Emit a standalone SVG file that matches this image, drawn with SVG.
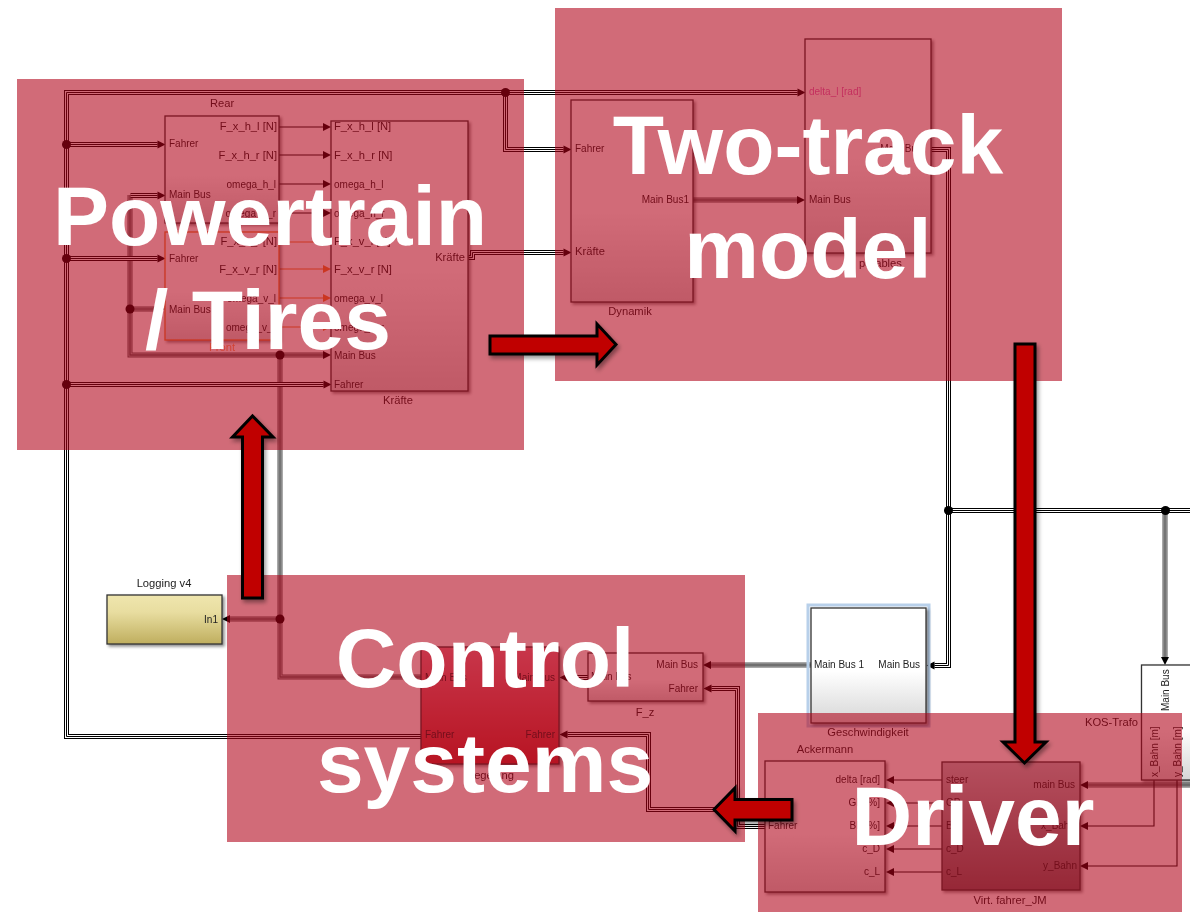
<svg xmlns="http://www.w3.org/2000/svg" width="1190" height="912" viewBox="0 0 1190 912">
<style>
text{font-family:"Liberation Sans",Arial,sans-serif}
.t{font-size:10px;fill:#222}
.n{font-size:11.2px;fill:#222}
.r{text-anchor:end}
.m{text-anchor:middle}
.box{fill:url(#gw);stroke:#333;stroke-width:1.3;filter:drop-shadow(2px 2px 1.5px rgba(0,0,0,.45))}
.sig{fill:none;stroke:#111;stroke-width:1.1;marker-end:url(#ah)}
.orange{fill:none;stroke:#f08030;stroke-width:1.1;marker-end:url(#aho)}
.b1{fill:none;stroke:#000;stroke-width:5}
.b2{fill:none;stroke:#fff;stroke-width:3}
.b3{fill:none;stroke:#000;stroke-width:1;marker-end:url(#ah)}
.g1{fill:none;stroke:#555;stroke-width:5}
.g2{fill:none;stroke:#c4c4c4;stroke-width:3}
.g3{fill:none;stroke:#555;stroke-width:1.4;marker-end:url(#ah)}
.dot{fill:#000}
.zone{fill:#B00016;fill-opacity:.58}
.big{font-size:84px;font-weight:bold;fill:#fff;text-anchor:middle}
.arrow{fill:#C00000;stroke:#000;stroke-width:3;stroke-linejoin:miter;filter:drop-shadow(2px 3px 2px rgba(0,0,0,.4))}
</style>
<defs>
<linearGradient id="gw" x1="0" y1="0" x2="0" y2="1"><stop offset="0" stop-color="#fff"/><stop offset=".55" stop-color="#fff"/><stop offset="1" stop-color="#d6d6d6"/></linearGradient>
<linearGradient id="gy" x1="0" y1="0" x2="0" y2="1"><stop offset="0" stop-color="#efe6ae"/><stop offset=".35" stop-color="#e8dda0"/><stop offset="1" stop-color="#bfae5e"/></linearGradient>
<linearGradient id="gr" x1="0" y1="0" x2="0" y2="1"><stop offset="0" stop-color="#e98293"/><stop offset="1" stop-color="#c33034"/></linearGradient>
<linearGradient id="gd" x1="0" y1="0" x2="0" y2="1"><stop offset="0" stop-color="#bcbcc0"/><stop offset="1" stop-color="#735f64"/></linearGradient>
<marker id="ah" markerUnits="userSpaceOnUse" markerWidth="9" markerHeight="10" refX="0" refY="5" orient="auto" overflow="visible"><path d="M0 1 L8 5 L0 9z" fill="#000" stroke="none"/></marker>
<marker id="aho" markerUnits="userSpaceOnUse" markerWidth="9" markerHeight="10" refX="0" refY="5" orient="auto" overflow="visible"><path d="M0 1 L8 5 L0 9z" fill="#f08030" stroke="none"/></marker>
<g id="crisp" transform="translate(.5 .5)">
<path d="M421 736H66V92H797"/>
<path d="M505 92V149H563"/>
<path d="M66 144H157"/>
<path d="M66 258H157"/>
<path d="M66 384H323"/>
<path d="M130 195H157"/>
<path d="M931 149H948V665H934"/>
<path d="M948 510H1190"/>
<path d="M765 826H737V688H711"/>
<path d="M737 809H648V734H567"/>
<path d="M468 257H472V252H563"/>
<path d="M588 677H567"/>
</g>
<g id="soft">
<path d="M130 195V355H323"/>
<path d="M130 309H157"/>
<path d="M280 355V677H421"/>
<path d="M280 619H230"/>
<path d="M693 200H797"/>
<path d="M811 665H711"/>
<path d="M1165 510V657"/>
<path d="M1190 785H1088"/>
</g>
</defs>
<rect width="1190" height="912" fill="#fff"/>
<g id="connectors">
<use href="#soft" class="g1"/><use href="#soft" class="g2"/><use href="#soft" class="g3"/>
<use href="#crisp" class="b1"/><use href="#crisp" class="b2"/><use href="#crisp" class="b3"/>
<path class="sig" d="M279 127H323"/>
<path class="sig" d="M279 155H323"/>
<path class="sig" d="M279 184H323"/>
<path class="sig" d="M279 213H323"/>
<path class="orange" d="M279 242H323"/>
<path class="orange" d="M279 269H323"/>
<path class="orange" d="M279 298H323"/>
<path class="orange" d="M279 327H323"/>
<path class="sig" d="M942 780H894"/>
<path class="sig" d="M942 803H894"/>
<path class="sig" d="M942 826H894"/>
<path class="sig" d="M942 849H894"/>
<path class="sig" d="M942 872H894"/>
<path class="sig" d="M1154 780V826H1088"/>
<path class="sig" d="M1177 780V866H1088"/>
<circle class="dot" cx="66.500" cy="144.500" r="4.500"/>
<circle class="dot" cx="66.500" cy="258.500" r="4.500"/>
<circle class="dot" cx="66.500" cy="384.500" r="4.500"/>
<circle class="dot" cx="505.500" cy="92.500" r="4.500"/>
<circle class="dot" cx="130" cy="309" r="4.500"/>
<circle class="dot" cx="280" cy="355" r="4.500"/>
<circle class="dot" cx="280" cy="619" r="4.500"/>
<circle class="dot" cx="948.500" cy="510.500" r="4.500"/>
<circle class="dot" cx="1165.500" cy="510.500" r="4.500"/>
</g>
<g style="filter:blur(.45px)">
<g id="rear">
<rect class="box" x="165" y="116" width="114" height="107"/>
<text class="n m" x="222" y="107">Rear</text>
<text class="t" x="169" y="147">Fahrer</text>
<text class="t" x="169" y="198">Main Bus</text>
<text class="n r" x="277" y="130">F_x_h_l [N]</text>
<text class="n r" x="277" y="159">F_x_h_r [N]</text>
<text class="t r" x="276" y="188">omega_h_l</text>
<text class="t r" x="276" y="217">omega_h_r</text>
</g>
<g id="front">
<rect class="box" x="165" y="232" width="114" height="108" style="stroke:#f08030"/>
<text class="n m" x="222" y="351" style="fill:#ffa060">Front</text>
<text class="t" x="169" y="262">Fahrer</text>
<text class="t" x="169" y="313">Main Bus</text>
<text class="n r" x="277" y="245">F_x_v_l [N]</text>
<text class="n r" x="277" y="273">F_x_v_r [N]</text>
<text class="t r" x="276" y="302">omega_v_l</text>
<text class="t r" x="276" y="331">omega_v_r</text>
</g>
<g id="kraefte">
<rect class="box" x="331" y="121" width="137" height="270"/>
<text class="n m" x="398" y="404">Kräfte</text>
<text class="n" x="334" y="130">F_x_h_l [N]</text>
<text class="n" x="334" y="159">F_x_h_r [N]</text>
<text class="t" x="334" y="188">omega_h_l</text>
<text class="t" x="334" y="217">omega_h_r</text>
<text class="n" x="334" y="245">F_x_v_l [N]</text>
<text class="n" x="334" y="273">F_x_v_r [N]</text>
<text class="t" x="334" y="302">omega_v_l</text>
<text class="t" x="334" y="331">omega_v_r</text>
<text class="t" x="334" y="359">Main Bus</text>
<text class="t" x="334" y="388">Fahrer</text>
<text class="n r" x="465" y="261">Kräfte</text>
</g>
<g id="dynamik">
<rect class="box" x="571" y="100" width="122" height="202"/>
<text class="n m" x="630" y="315">Dynamik</text>
<text class="t" x="575" y="152">Fahrer</text>
<text class="n" x="575" y="255">Kräfte</text>
<text class="t r" x="689" y="203">Main Bus1</text>
</g>
<g id="parables">
<rect class="box" x="805" y="39" width="126" height="214"/>
<text class="n" x="859" y="267">parables</text>
<text class="t" x="809" y="95" style="fill:#e070c0">delta_l [rad]</text>
<text class="t" x="809" y="203">Main Bus</text>
<text class="t r" x="922" y="152">Main Bus</text>
</g>
<g id="logging">
<rect class="box" x="107" y="595" width="115" height="49" style="fill:url(#gy)"/>
<text class="n m" x="164" y="587">Logging v4</text>
<text class="t r" x="218" y="623">In1</text>
</g>
<g id="regelung">
<rect class="box" x="421" y="647" width="138" height="117" style="fill:url(#gr)"/>
<text class="n m" x="490" y="779">Regelung</text>
<text class="t" x="425" y="681">Main Bus</text>
<text class="t r" x="555" y="681">Main Bus</text>
<text class="t" x="425" y="738">Fahrer</text>
<text class="t r" x="555" y="738">Fahrer</text>
</g>
<g id="f_z">
<rect class="box" x="588" y="653" width="115" height="48"/>
<text class="n m" x="645" y="716">F_z</text>
<text class="t" x="591" y="680">Main bus</text>
<text class="t r" x="698" y="668">Main Bus</text>
<text class="t r" x="698" y="692">Fahrer</text>
</g>
<g id="geschwindigkeit">
<rect x="808" y="605" width="121" height="121" fill="none" stroke="#b8d0ea" stroke-width="3"/>
<rect class="box" x="811" y="608" width="115" height="115"/>
<text class="n m" x="868" y="736">Geschwindigkeit</text>
<text class="t" x="814" y="668">Main Bus 1</text>
<text class="t r" x="920" y="668">Main Bus</text>
</g>
<g id="kos-trafo">
<rect class="box" x="1141.500" y="665" width="60" height="115"/>
<text class="n r" x="1138" y="726">KOS-Trafo</text>
<text class="t" transform="translate(1169 711) rotate(-90)">Main Bus</text>
<text class="t" transform="translate(1158 777) rotate(-90)">x_Bahn [m]</text>
<text class="t" transform="translate(1181 777) rotate(-90)">y_Bahn [m]</text>
</g>
<g id="ackermann">
<rect class="box" x="765" y="761" width="120" height="131"/>
<text class="n m" x="825" y="753">Ackermann</text>
<text class="t" x="768" y="829">Fahrer</text>
<text class="t r" x="880" y="783">delta [rad]</text>
<text class="t r" x="880" y="806">GP [%]</text>
<text class="t r" x="880" y="829">BP [%]</text>
<text class="t r" x="880" y="852">c_D</text>
<text class="t r" x="880" y="875">c_L</text>
</g>
<g id="virt-fahrer">
<rect class="box" x="942" y="762" width="138" height="128" style="fill:url(#gd)"/>
<text class="n m" x="1010" y="904">Virt. fahrer_JM</text>
<text class="t" x="946" y="783">steer</text>
<text class="t" x="946" y="806">GP</text>
<text class="t" x="946" y="829">BP</text>
<text class="t" x="946" y="852">c_D</text>
<text class="t" x="946" y="875">c_L</text>
<text class="t r" x="1075" y="788">main Bus</text>
<text class="t r" x="1075" y="829">x_Bahn</text>
<text class="t r" x="1077" y="869">y_Bahn</text>
</g>
</g>
<g id="powertrain-zone"><rect class="zone" x="17" y="79" width="507" height="371"/></g>
<g id="two-track-zone"><rect class="zone" x="555" y="8" width="507" height="373"/></g>
<g id="control-zone"><rect class="zone" x="227" y="575" width="518" height="267"/></g>
<g id="driver-zone"><rect class="zone" x="758" y="713" width="424" height="199"/></g>
<g id="flow-arrows">
<path class="arrow" d="M490 336H597V324L616 344.500L597 365V354H490Z"/>
<path class="arrow" d="M1015 344H1035V742H1046L1024.500 763L1003 742H1015Z"/>
<path class="arrow" d="M792 799.500V820H735V831L714 809.500L735 788V799.500Z"/>
<path class="arrow" d="M242.500 598V437H232.500L252.500 416L273 437H262.500V598Z"/>
</g>
<g id="labels">
<text class="big" x="270" y="245">Powertrain</text>
<text class="big" x="268" y="349">/ Tires</text>
<text class="big" x="808" y="174">Two-track</text>
<text class="big" x="808" y="278">model</text>
<text class="big" x="485" y="687">Control</text>
<text class="big" x="485" y="792">systems</text>
<text class="big" x="973" y="845">Driver</text>
</g>
</svg>
